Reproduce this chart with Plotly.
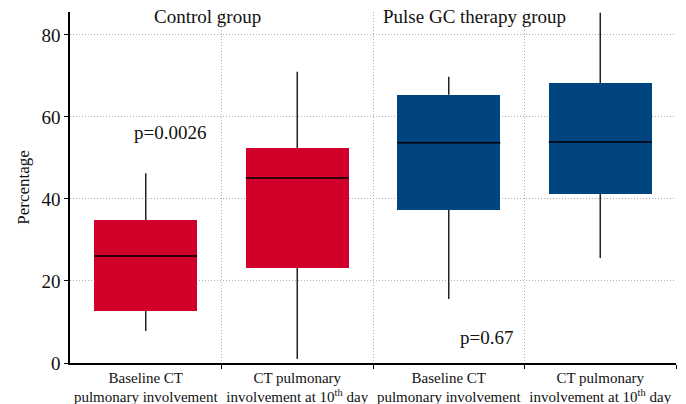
import plotly.graph_objects as go

categories = ["Baseline CT<br>pulmonary involvement",
              "CT pulmonary<br>involvement at 10<sup>th</sup> day",
              "Baseline CT<br>pulmonary involvement",
              "CT pulmonary<br>involvement at 10<sup>th</sup> day"]
groups = ["Control group", "Control group", "Pulse GC therapy group", "Pulse GC therapy group"]
lower_whisker = [7.8, 1.0, 15.6, 25.6]
q1 = [12.7, 23.2, 37.3, 41.2]
median = [26.1, 45.1, 53.7, 53.9]
q3 = [34.9, 52.4, 65.4, 68.3]
upper_whisker = [46.3, 71.0, 69.8, 85.4]
colors = ["#D0002B", "#D0002B", "#00457F", "#00457F"]
p_values = ["p=0.0026", "p=0.67"]

FONT = "Liberation Serif, DejaVu Serif, serif"
BOXW = 0.68
pos = list(range(len(categories)))
GRID = "#b0b0b0"

fig = go.Figure()
fig.add_trace(go.Bar(
    x=pos, base=q1, y=[b - a for a, b in zip(q1, q3)],
    width=BOXW, marker=dict(color=colors, line=dict(width=0)),
    showlegend=False, hoverinfo="skip"))

wx, wy, mx, my = [], [], [], []
for i in pos:
    wx += [i, i, None, i, i, None]
    wy += [lower_whisker[i], q1[i], None, q3[i], upper_whisker[i], None]
    mx += [i - BOXW / 2, i + BOXW / 2, None]
    my += [median[i], median[i], None]
fig.add_trace(go.Scatter(x=wx, y=wy, mode="lines", line=dict(color="#222", width=1.5),
                         showlegend=False, hoverinfo="skip"))
fig.add_trace(go.Scatter(x=mx, y=my, mode="lines", line=dict(color="#000", width=1.5),
                         showlegend=False, hoverinfo="skip"))

# group titles
fig.add_annotation(x=0.41, y=1.0, xref="x", yref="paper", yanchor="middle", yshift=-4,
                   text=groups[0], showarrow=False, font=dict(size=19, color="#111", family=FONT))
fig.add_annotation(x=2.17, y=1.0, xref="x", yref="paper", yanchor="middle", yshift=-4,
                   text=groups[2], showarrow=False, font=dict(size=19, color="#111", family=FONT))
# p-values
fig.add_annotation(x=0.16, y=56.1, text=p_values[0], showarrow=False,
                   font=dict(size=19, color="#111", family=FONT))
fig.add_annotation(x=2.25, y=6.3, text=p_values[1], showarrow=False,
                   font=dict(size=19, color="#111", family=FONT))

fig.update_layout(
    width=686, height=404,
    margin=dict(l=70, r=10, t=12, b=41),
    plot_bgcolor="white", paper_bgcolor="white",
    font=dict(family=FONT, color="#111"),
    bargap=0,
    xaxis=dict(range=[-0.5, 3.5], tickmode="array", tickvals=pos, ticktext=categories,
               showgrid=False, ticks="", showline=True, linecolor="black", linewidth=1.5,
               tickfont=dict(size=15, family=FONT, color="#111"), zeroline=False,
               automargin=False,
               minor=dict(tickmode="array", tickvals=[0.5, 1.5, 2.5, 3.5], ticks="outside",
                          ticklen=4, tickcolor="black", showgrid=True,
                          gridcolor=GRID, griddash="1px,2px", gridwidth=1)),
    yaxis=dict(range=[0, 85.6], tickmode="array", tickvals=[0, 20, 40, 60, 80],
               showgrid=True, gridcolor=GRID, griddash="1px,2px", gridwidth=1,
               ticks="outside", ticklen=4, tickcolor="black",
               showline=True, linecolor="black", linewidth=1.5, zeroline=False,
               automargin=False,
               tickfont=dict(size=19, family=FONT, color="#111"),
               title=dict(text="Percentage", font=dict(size=17, family=FONT, color="#111"),
                          standoff=8)),
)
fig.write_html("out.html", config={"displayModeBar": False},
               post_script="document.body.style.margin='0';document.body.style.overflow='hidden';")
